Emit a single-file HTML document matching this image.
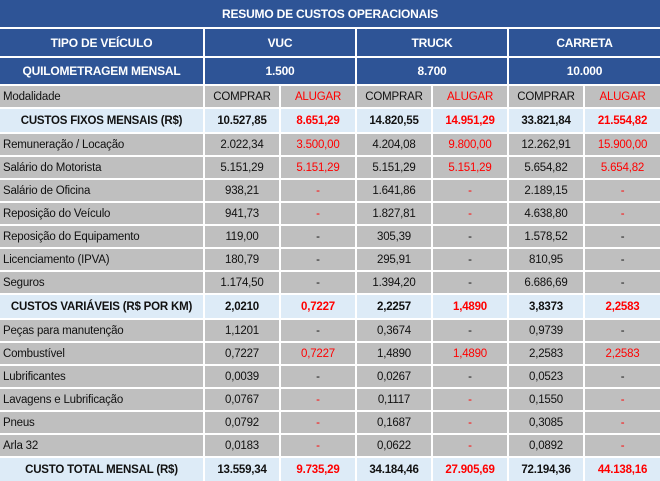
<!DOCTYPE html>
<html><head><meta charset="utf-8"><style>
html,body{margin:0;padding:0;background:#fff;width:660px;height:481px;overflow:hidden}
table{border-collapse:separate;border-spacing:2px;margin:-2px 0 0 -2px;table-layout:fixed;width:664px;font-family:"Liberation Sans",sans-serif;font-size:11.5px;letter-spacing:-0.2px}
td{padding:0;text-align:center;white-space:nowrap;overflow:hidden;color:#111}
.h td{background:#2E5496;color:#fff;font-weight:bold;font-size:12px}
.g td{background:#BFBFBF;height:21px}
.b td{background:#DDEBF7;font-weight:bold;height:23px}
td.l{text-align:left;padding-left:3px}
.r{color:#f00!important}
.g td.r{color:#e00}
</style></head><body>
<table>
<colgroup><col style="width:203px"><col style="width:74px"><col style="width:74px"><col style="width:74px"><col style="width:74px"><col style="width:74px"><col style="width:75px"></colgroup>
<tr class="h"><td colspan="7" style="height:27px">RESUMO DE CUSTOS OPERACIONAIS</td></tr>
<tr class="h"><td style="height:27px">TIPO DE VEÍCULO</td><td colspan="2">VUC</td><td colspan="2">TRUCK</td><td colspan="2">CARRETA</td></tr>
<tr class="h"><td style="height:26px">QUILOMETRAGEM MENSAL</td><td colspan="2">1.500</td><td colspan="2">8.700</td><td colspan="2">10.000</td></tr>
<tr class="g"><td class="l">Modalidade</td><td>COMPRAR</td><td class="r">ALUGAR</td><td>COMPRAR</td><td class="r">ALUGAR</td><td>COMPRAR</td><td class="r">ALUGAR</td></tr>
<tr class="b"><td>CUSTOS FIXOS MENSAIS (R$)</td><td>10.527,85</td><td class="r">8.651,29</td><td>14.820,55</td><td class="r">14.951,29</td><td>33.821,84</td><td class="r">21.554,82</td></tr>
<tr class="g"><td class="l">Remuneração / Locação</td><td>2.022,34</td><td class="r">3.500,00</td><td>4.204,08</td><td class="r">9.800,00</td><td>12.262,91</td><td class="r">15.900,00</td></tr>
<tr class="g"><td class="l">Salário do Motorista</td><td>5.151,29</td><td class="r">5.151,29</td><td>5.151,29</td><td class="r">5.151,29</td><td>5.654,82</td><td class="r">5.654,82</td></tr>
<tr class="g"><td class="l">Salário de Oficina</td><td>938,21</td><td class="r">-</td><td>1.641,86</td><td class="r">-</td><td>2.189,15</td><td class="r">-</td></tr>
<tr class="g"><td class="l">Reposição do Veículo</td><td>941,73</td><td class="r">-</td><td>1.827,81</td><td class="r">-</td><td>4.638,80</td><td class="r">-</td></tr>
<tr class="g"><td class="l">Reposição do Equipamento</td><td>119,00</td><td>-</td><td>305,39</td><td>-</td><td>1.578,52</td><td>-</td></tr>
<tr class="g"><td class="l">Licenciamento (IPVA)</td><td>180,79</td><td>-</td><td>295,91</td><td>-</td><td>810,95</td><td>-</td></tr>
<tr class="g"><td class="l">Seguros</td><td>1.174,50</td><td>-</td><td>1.394,20</td><td>-</td><td>6.686,69</td><td>-</td></tr>
<tr class="b"><td>CUSTOS VARIÁVEIS (R$ POR KM)</td><td>2,0210</td><td class="r">0,7227</td><td>2,2257</td><td class="r">1,4890</td><td>3,8373</td><td class="r">2,2583</td></tr>
<tr class="g"><td class="l">Peças para manutenção</td><td>1,1201</td><td>-</td><td>0,3674</td><td>-</td><td>0,9739</td><td>-</td></tr>
<tr class="g"><td class="l">Combustível</td><td>0,7227</td><td class="r">0,7227</td><td>1,4890</td><td class="r">1,4890</td><td>2,2583</td><td class="r">2,2583</td></tr>
<tr class="g"><td class="l">Lubrificantes</td><td>0,0039</td><td>-</td><td>0,0267</td><td>-</td><td>0,0523</td><td>-</td></tr>
<tr class="g"><td class="l">Lavagens e Lubrificação</td><td>0,0767</td><td class="r">-</td><td>0,1117</td><td class="r">-</td><td>0,1550</td><td class="r">-</td></tr>
<tr class="g"><td class="l">Pneus</td><td>0,0792</td><td class="r">-</td><td>0,1687</td><td class="r">-</td><td>0,3085</td><td class="r">-</td></tr>
<tr class="g"><td class="l">Arla 32</td><td>0,0183</td><td class="r">-</td><td>0,0622</td><td class="r">-</td><td>0,0892</td><td class="r">-</td></tr>
<tr class="b"><td>CUSTO TOTAL MENSAL (R$)</td><td>13.559,34</td><td class="r">9.735,29</td><td>34.184,46</td><td class="r">27.905,69</td><td>72.194,36</td><td class="r">44.138,16</td></tr>
</table>
</body></html>
